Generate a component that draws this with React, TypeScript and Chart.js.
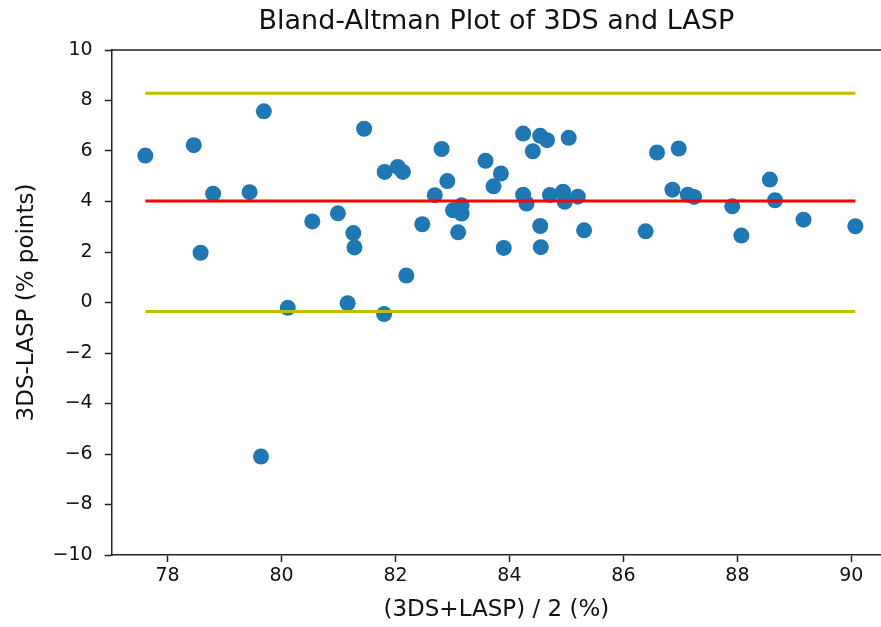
import React, { useEffect, useRef } from "react";
import { Chart, registerables } from "chart.js";

Chart.register(...registerables);

// Mean of the two methods, (3DS+LASP)/2 in %
const meanValues: number[] = [
  77.61, 78.46, 79.69, 78.80, 79.44, 78.58, 81.45, 80.54, 80.99, 81.26,
  81.28, 80.11, 81.16, 81.80, 81.81, 82.04, 82.13, 82.19, 82.81, 82.91,
  82.69, 82.47, 83.01, 83.16, 83.16, 83.10, 83.58, 83.85, 83.72, 83.90,
  84.24, 84.41, 84.54, 84.66, 85.04, 84.24, 84.30, 84.54, 84.55, 84.71,
  84.94, 84.97, 85.20, 85.31, 86.39, 86.59, 86.97, 86.86, 87.13, 87.24,
  87.91, 88.07, 88.57, 88.66, 89.16, 90.07, 79.64,
];
// Difference 3DS-LASP in % points
const diffValues: number[] = [
  5.82, 6.23, 7.57, 4.31, 4.37, 1.97, 6.88, 3.21, 3.53, 2.75,
  2.18, -0.21, -0.03, -0.46, 5.17, 5.37, 5.17, 1.07, 6.08, 4.81,
  4.25, 3.10, 3.65, 3.85, 3.52, 2.78, 5.61, 5.11, 4.60, 2.16,
  6.69, 5.99, 6.60, 6.43, 6.52, 4.27, 3.92, 3.03, 2.19, 4.26,
  4.39, 3.99, 4.19, 2.86, 2.82, 5.94, 6.10, 4.47, 4.27, 4.18,
  3.81, 2.65, 4.87, 4.05, 3.28, 3.02, -6.10,
];

const meanDifference = 4.02;
const upperLimit = 8.29;
const lowerLimit = -0.36;

const xTicks: number[] = [78, 80, 82, 84, 86, 88, 90];
const yTicks: number[] = [-10, -8, -6, -4, -2, 0, 2, 4, 6, 8, 10];

const titleText = "Bland-Altman Plot of 3DS and LASP";
const xTitle = "(3DS+LASP) / 2 (%)";
const yTitle = "3DS-LASP (% points)";

const FONT = "'DejaVu Sans', 'Liberation Sans', sans-serif";

export default function App() {
  const ref = useRef<HTMLCanvasElement | null>(null);

  useEffect(() => {
    if (!ref.current) return;
    const xMin = Math.min(...meanValues);
    const xMax = Math.max(...meanValues);
    const hLine = (v: number) => [
      { x: xMin, y: v },
      { x: xMax, y: v },
    ];

    const topSpine = {
      id: "topSpine",
      afterDatasetsDraw(chart: any) {
        const { ctx, chartArea } = chart;
        ctx.save();
        ctx.strokeStyle = "#222";
        ctx.lineWidth = 1.5;
        ctx.beginPath();
        ctx.moveTo(chartArea.left, chartArea.top);
        ctx.lineTo(chartArea.right, chartArea.top);
        ctx.stroke();
        ctx.restore();
      },
    };

    const chart = new Chart(ref.current, {
      type: "scatter",
      data: {
        datasets: [
          {
            type: "line",
            label: "upper",
            data: hLine(upperLimit),
            borderColor: "#bfbf00",
            borderWidth: 3,
            pointRadius: 0,
            order: 0,
          },
          {
            type: "line",
            label: "mean",
            data: hLine(meanDifference),
            borderColor: "#ff0000",
            borderWidth: 3,
            pointRadius: 0,
            order: 0,
          },
          {
            type: "line",
            label: "lower",
            data: hLine(lowerLimit),
            borderColor: "#bfbf00",
            borderWidth: 3,
            pointRadius: 0,
            order: 0,
          },
          {
            label: "points",
            data: meanValues.map((m, i) => ({ x: m, y: diffValues[i] })),
            backgroundColor: "#1f77b4",
            borderWidth: 0,
            pointRadius: 8,
            order: 1,
          },
        ],
      } as any,
      options: {
        animation: false,
        responsive: false,
        layout: { padding: 0, autoPadding: false },
        plugins: {
          legend: { display: false },
          tooltip: { enabled: false },
          title: {
            display: true,
            text: titleText,
            fullSize: false,
            color: "#111",
            font: { family: FONT, size: 27, weight: "normal", lineHeight: 1.2 },
            padding: { top: 6, bottom: 11.6 },
          },
        },
        scales: {
          x: {
            type: "linear",
            min: 77.02,
            max: 90.52,
            afterFit: (s: any) => {
              s.height = 72;
              s.paddingRight = 0;
              s.paddingLeft = 0;
            },
            afterBuildTicks: (s: any) => {
              s.ticks = xTicks.map((v) => ({ value: v }));
            },
            ticks: {
              color: "#111",
              font: { family: FONT, size: 19 },
              padding: 3,
              maxRotation: 0,
              autoSkip: false,
              callback: (v: any) => String(v),
            },
            grid: {
              drawOnChartArea: false,
              drawTicks: true,
              tickLength: 7,
              color: "#222",
              tickWidth: 1.5,
            },
            border: { display: true, color: "#222", width: 1.5 },
            title: {
              display: true,
              text: xTitle,
              color: "#111",
              font: { family: FONT, size: 23, lineHeight: 1.2 },
              padding: { top: 0, bottom: 3 },
            },
          },
          y: {
            type: "linear",
            min: -10,
            max: 10,
            afterFit: (s: any) => {
              s.width = 111.7;
              s.paddingTop = 0;
              s.paddingBottom = 0;
            },
            afterBuildTicks: (s: any) => {
              s.ticks = yTicks.map((v) => ({ value: v }));
            },
            ticks: {
              color: "#111",
              font: { family: FONT, size: 19 },
              padding: 12,
              autoSkip: false,
              callback: (v: any) => String(v).replace("-", "\u2212"),
            },
            grid: {
              drawOnChartArea: false,
              drawTicks: true,
              tickLength: 7,
              color: "#222",
              tickWidth: 1.5,
            },
            border: { display: true, color: "#222", width: 1.5 },
            title: {
              display: true,
              text: yTitle,
              color: "#111",
              font: { family: FONT, size: 23, lineHeight: 1.2 },
              padding: { top: 13, bottom: 0 },
            },
          },
        },
      } as any,
      plugins: [topSpine],
    });
    return () => chart.destroy();
  }, []);

  return (
    <div style={{ position: "absolute", left: 0, top: 0, width: 881, height: 627, background: "#fff" }}>
      <canvas ref={ref} width={881} height={627} style={{ display: "block" }} />
    </div>
  );
}
